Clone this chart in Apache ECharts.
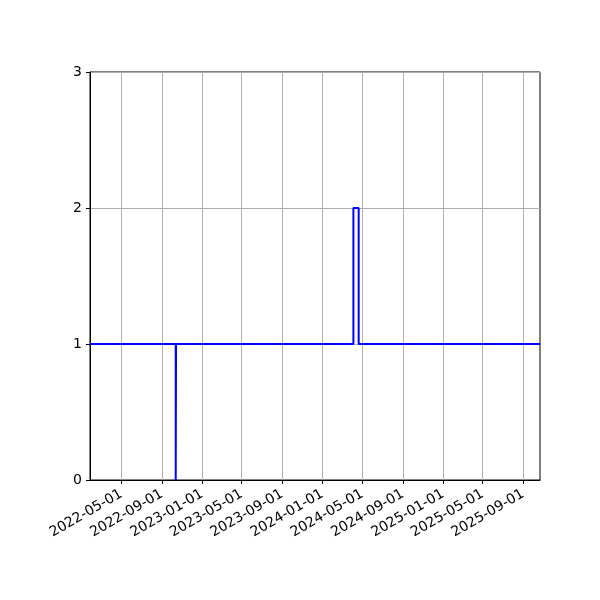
<!DOCTYPE html>
<html><head><meta charset="utf-8">
<script src="https://cdn.jsdelivr.net/npm/echarts@6/dist/echarts.min.js"></script>
<style>html,body{margin:0;padding:0;background:#fff}#c{width:600px;height:600px}</style>
</head><body><div id="c"></div>
<script>
const stepDates = ['2022-01-26','2022-10-13','2022-10-14','2024-04-04','2024-04-20','2025-10-22'];
const stepValues = [1, 0, 1, 2, 1, 1];
const xTickDates = ['2022-05-01','2022-09-01','2023-01-01','2023-05-01','2023-09-01','2024-01-01','2024-05-01','2024-09-01','2025-01-01','2025-05-01','2025-09-01'];
const xRange = ['2022-01-26','2025-10-22'];
const yTicks = [0, 1, 2, 3];

function ts(s){const p=s.split('-').map(Number);return Date.UTC(p[0],p[1]-1,p[2]);}
function fmt(v){const d=new Date(v);const m=d.getUTCMonth()+1, dd=d.getUTCDate();return d.getUTCFullYear()+'-'+(m<10?'0':'')+m+'-'+(dd<10?'0':'')+dd;}

const chart = echarts.init(document.getElementById('c'), null, {renderer:'canvas'});
const font = 'DejaVu Sans';
const tickVals = xTickDates.map(ts);
chart.setOption({
  animation:false,
  backgroundColor:'#fff',
  grid:{left:90,right:60,top:72,bottom:120,show:true,borderColor:'#000',borderWidth:1,backgroundColor:'transparent'},
  xAxis:{
    type:'value', min:ts(xRange[0]), max:ts(xRange[1]), scale:true,
    axisLine:{show:true,lineStyle:{color:'#000',width:1}},
    axisTick:{show:true,inside:false,length:4,lineStyle:{color:'#000'},customValues:tickVals},
    axisLabel:{show:true,rotate:30,margin:13,color:'#000',fontFamily:font,fontSize:14,customValues:tickVals,formatter:v=>fmt(v),hideOverlap:false},
    splitLine:{show:true,lineStyle:{color:'#b0b0b0',width:1}}
  },
  yAxis:{
    type:'value', min:yTicks[0], max:yTicks[yTicks.length-1], interval:1,
    axisLine:{show:true,lineStyle:{color:'#000',width:1}},
    axisTick:{show:true,inside:false,length:4,lineStyle:{color:'#000'}},
    axisLabel:{color:'#000',fontFamily:font,fontSize:14,margin:8},
    splitLine:{show:true,lineStyle:{color:'#b0b0b0',width:1}}
  },
  series:[{
    type:'line', step:'end', showSymbol:false, symbol:'none',
    data: stepDates.map((d,i)=>[ts(d),stepValues[i]]),
    lineStyle:{color:'#0000ff',width:2},
    clip:true
  }]
});
</script></body></html>
